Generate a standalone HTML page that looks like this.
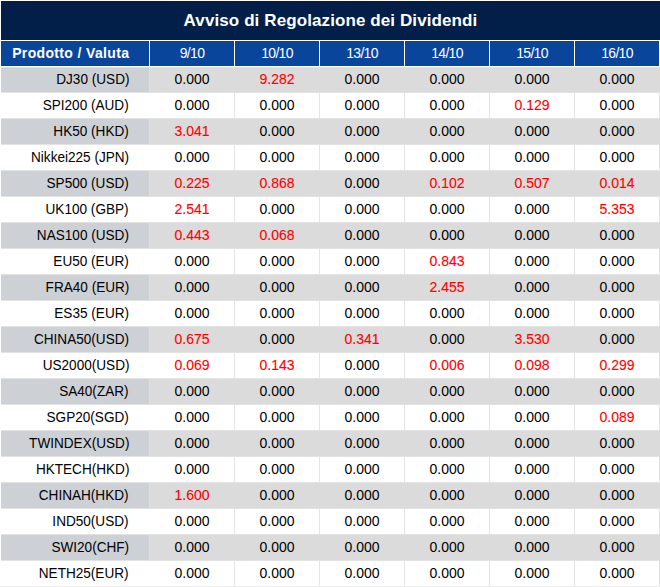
<!DOCTYPE html>
<html><head><meta charset="utf-8">
<style>
html,body{margin:0;padding:0;}
body{width:660px;height:587px;position:relative;overflow:hidden;background:#fff;font-family:"Liberation Sans",sans-serif;}
.b{position:absolute;}
.t{position:absolute;white-space:nowrap;}
.title{left:1px;top:1px;width:659px;text-align:center;line-height:39px;color:#fff;font-weight:bold;font-size:17px;letter-spacing:0.1px;}
.dt{color:#fff;font-size:14px;letter-spacing:-0.7px;line-height:25px;text-align:center;width:84px;top:41px;}
.d{font-size:14px;line-height:25px;text-align:center;color:#000;width:84px;}
.r{color:#ff0000;-webkit-text-stroke:0.12px #ff0000;}
.lab{font-size:14px;line-height:25px;color:#000;right:531px;transform:scaleX(0.97);transform-origin:100% 50%;}
</style></head><body>

<div class="b" style="left:1px;top:1px;width:659px;height:39px;background:#011f48;"></div>
<div class="b" style="left:1px;top:41px;width:148px;height:25px;background:#08459b;"></div>
<div class="b" style="left:150px;top:41px;width:84px;height:25px;background:#08459b;"></div>
<div class="b" style="left:235px;top:41px;width:84px;height:25px;background:#08459b;"></div>
<div class="b" style="left:320px;top:41px;width:84px;height:25px;background:#08459b;"></div>
<div class="b" style="left:405px;top:41px;width:84px;height:25px;background:#08459b;"></div>
<div class="b" style="left:490px;top:41px;width:84px;height:25px;background:#08459b;"></div>
<div class="b" style="left:575px;top:41px;width:84px;height:25px;background:#08459b;"></div>
<div class="b" style="left:234px;top:67px;width:1px;height:519px;background:#e4e4e4;"></div>
<div class="b" style="left:319px;top:67px;width:1px;height:519px;background:#e4e4e4;"></div>
<div class="b" style="left:404px;top:67px;width:1px;height:519px;background:#e4e4e4;"></div>
<div class="b" style="left:489px;top:67px;width:1px;height:519px;background:#e4e4e4;"></div>
<div class="b" style="left:574px;top:67px;width:1px;height:519px;background:#e4e4e4;"></div>
<div class="b" style="left:659px;top:67px;width:1px;height:519px;background:#e4e4e4;"></div>
<div class="b" style="left:0px;top:586px;width:660px;height:1px;background:#ececec;"></div>
<div class="b" style="left:1px;top:67px;width:148px;height:26px;background:#cdd0d5;"></div>
<div class="b" style="left:149px;top:67px;width:1px;height:26px;background:#dedede;"></div>
<div class="b" style="left:150px;top:67px;width:510px;height:26px;background:#dbdbdb;"></div>
<div class="b" style="left:1px;top:67px;width:659px;height:1px;background:#e3e3e3;"></div>
<div class="b" style="left:1px;top:92px;width:659px;height:1px;background:#e3e3e3;"></div>
<div class="b" style="left:1px;top:118px;width:148px;height:27px;background:#cdd0d5;"></div>
<div class="b" style="left:149px;top:118px;width:1px;height:27px;background:#dedede;"></div>
<div class="b" style="left:150px;top:118px;width:510px;height:27px;background:#dbdbdb;"></div>
<div class="b" style="left:1px;top:118px;width:659px;height:1px;background:#e3e3e3;"></div>
<div class="b" style="left:1px;top:144px;width:659px;height:1px;background:#e3e3e3;"></div>
<div class="b" style="left:1px;top:170px;width:148px;height:27px;background:#cdd0d5;"></div>
<div class="b" style="left:149px;top:170px;width:1px;height:27px;background:#dedede;"></div>
<div class="b" style="left:150px;top:170px;width:510px;height:27px;background:#dbdbdb;"></div>
<div class="b" style="left:1px;top:170px;width:659px;height:1px;background:#e3e3e3;"></div>
<div class="b" style="left:1px;top:196px;width:659px;height:1px;background:#e3e3e3;"></div>
<div class="b" style="left:1px;top:222px;width:148px;height:27px;background:#cdd0d5;"></div>
<div class="b" style="left:149px;top:222px;width:1px;height:27px;background:#dedede;"></div>
<div class="b" style="left:150px;top:222px;width:510px;height:27px;background:#dbdbdb;"></div>
<div class="b" style="left:1px;top:222px;width:659px;height:1px;background:#e3e3e3;"></div>
<div class="b" style="left:1px;top:248px;width:659px;height:1px;background:#e3e3e3;"></div>
<div class="b" style="left:1px;top:274px;width:148px;height:27px;background:#cdd0d5;"></div>
<div class="b" style="left:149px;top:274px;width:1px;height:27px;background:#dedede;"></div>
<div class="b" style="left:150px;top:274px;width:510px;height:27px;background:#dbdbdb;"></div>
<div class="b" style="left:1px;top:274px;width:659px;height:1px;background:#e3e3e3;"></div>
<div class="b" style="left:1px;top:300px;width:659px;height:1px;background:#e3e3e3;"></div>
<div class="b" style="left:1px;top:326px;width:148px;height:27px;background:#cdd0d5;"></div>
<div class="b" style="left:149px;top:326px;width:1px;height:27px;background:#dedede;"></div>
<div class="b" style="left:150px;top:326px;width:510px;height:27px;background:#dbdbdb;"></div>
<div class="b" style="left:1px;top:326px;width:659px;height:1px;background:#e3e3e3;"></div>
<div class="b" style="left:1px;top:352px;width:659px;height:1px;background:#e3e3e3;"></div>
<div class="b" style="left:1px;top:378px;width:148px;height:27px;background:#cdd0d5;"></div>
<div class="b" style="left:149px;top:378px;width:1px;height:27px;background:#dedede;"></div>
<div class="b" style="left:150px;top:378px;width:510px;height:27px;background:#dbdbdb;"></div>
<div class="b" style="left:1px;top:378px;width:659px;height:1px;background:#e3e3e3;"></div>
<div class="b" style="left:1px;top:404px;width:659px;height:1px;background:#e3e3e3;"></div>
<div class="b" style="left:1px;top:430px;width:148px;height:27px;background:#cdd0d5;"></div>
<div class="b" style="left:149px;top:430px;width:1px;height:27px;background:#dedede;"></div>
<div class="b" style="left:150px;top:430px;width:510px;height:27px;background:#dbdbdb;"></div>
<div class="b" style="left:1px;top:430px;width:659px;height:1px;background:#e3e3e3;"></div>
<div class="b" style="left:1px;top:456px;width:659px;height:1px;background:#e3e3e3;"></div>
<div class="b" style="left:1px;top:482px;width:148px;height:27px;background:#cdd0d5;"></div>
<div class="b" style="left:149px;top:482px;width:1px;height:27px;background:#dedede;"></div>
<div class="b" style="left:150px;top:482px;width:510px;height:27px;background:#dbdbdb;"></div>
<div class="b" style="left:1px;top:482px;width:659px;height:1px;background:#e3e3e3;"></div>
<div class="b" style="left:1px;top:508px;width:659px;height:1px;background:#e3e3e3;"></div>
<div class="b" style="left:1px;top:534px;width:148px;height:27px;background:#cdd0d5;"></div>
<div class="b" style="left:149px;top:534px;width:1px;height:27px;background:#dedede;"></div>
<div class="b" style="left:150px;top:534px;width:510px;height:27px;background:#dbdbdb;"></div>
<div class="b" style="left:1px;top:534px;width:659px;height:1px;background:#e3e3e3;"></div>
<div class="b" style="left:1px;top:560px;width:659px;height:1px;background:#e3e3e3;"></div>
<div class="t title">Avviso di Regolazione dei Dividendi</div>
<div class="t" style="right:531px;top:41px;line-height:25px;font-size:14px;font-weight:bold;color:#fff;letter-spacing:0.35px;">Prodotto / Valut<span style="letter-spacing:0">a</span></div>
<div class="t dt" style="left:150px;">9/10</div>
<div class="t dt" style="left:235px;">10/10</div>
<div class="t dt" style="left:320px;">13/10</div>
<div class="t dt" style="left:405px;">14/10</div>
<div class="t dt" style="left:490px;">15/10</div>
<div class="t dt" style="left:575px;">16/10</div>
<div class="t lab" style="top:67px;">DJ30 (USD)</div>
<div class="t d" style="left:150px;top:67px;">0.000</div>
<div class="t d r" style="left:235px;top:67px;">9.282</div>
<div class="t d" style="left:320px;top:67px;">0.000</div>
<div class="t d" style="left:405px;top:67px;">0.000</div>
<div class="t d" style="left:490px;top:67px;">0.000</div>
<div class="t d" style="left:575px;top:67px;">0.000</div>
<div class="t lab" style="top:93px;">SPI200 (AUD)</div>
<div class="t d" style="left:150px;top:93px;">0.000</div>
<div class="t d" style="left:235px;top:93px;">0.000</div>
<div class="t d" style="left:320px;top:93px;">0.000</div>
<div class="t d" style="left:405px;top:93px;">0.000</div>
<div class="t d r" style="left:490px;top:93px;">0.129</div>
<div class="t d" style="left:575px;top:93px;">0.000</div>
<div class="t lab" style="top:119px;">HK50 (HKD)</div>
<div class="t d r" style="left:150px;top:119px;">3.041</div>
<div class="t d" style="left:235px;top:119px;">0.000</div>
<div class="t d" style="left:320px;top:119px;">0.000</div>
<div class="t d" style="left:405px;top:119px;">0.000</div>
<div class="t d" style="left:490px;top:119px;">0.000</div>
<div class="t d" style="left:575px;top:119px;">0.000</div>
<div class="t lab" style="top:145px;">Nikkei225 (JPN)</div>
<div class="t d" style="left:150px;top:145px;">0.000</div>
<div class="t d" style="left:235px;top:145px;">0.000</div>
<div class="t d" style="left:320px;top:145px;">0.000</div>
<div class="t d" style="left:405px;top:145px;">0.000</div>
<div class="t d" style="left:490px;top:145px;">0.000</div>
<div class="t d" style="left:575px;top:145px;">0.000</div>
<div class="t lab" style="top:171px;">SP500 (USD)</div>
<div class="t d r" style="left:150px;top:171px;">0.225</div>
<div class="t d r" style="left:235px;top:171px;">0.868</div>
<div class="t d" style="left:320px;top:171px;">0.000</div>
<div class="t d r" style="left:405px;top:171px;">0.102</div>
<div class="t d r" style="left:490px;top:171px;">0.507</div>
<div class="t d r" style="left:575px;top:171px;">0.014</div>
<div class="t lab" style="top:197px;">UK100 (GBP)</div>
<div class="t d r" style="left:150px;top:197px;">2.541</div>
<div class="t d" style="left:235px;top:197px;">0.000</div>
<div class="t d" style="left:320px;top:197px;">0.000</div>
<div class="t d" style="left:405px;top:197px;">0.000</div>
<div class="t d" style="left:490px;top:197px;">0.000</div>
<div class="t d r" style="left:575px;top:197px;">5.353</div>
<div class="t lab" style="top:223px;">NAS100 (USD)</div>
<div class="t d r" style="left:150px;top:223px;">0.443</div>
<div class="t d r" style="left:235px;top:223px;">0.068</div>
<div class="t d" style="left:320px;top:223px;">0.000</div>
<div class="t d" style="left:405px;top:223px;">0.000</div>
<div class="t d" style="left:490px;top:223px;">0.000</div>
<div class="t d" style="left:575px;top:223px;">0.000</div>
<div class="t lab" style="top:249px;">EU50 (EUR)</div>
<div class="t d" style="left:150px;top:249px;">0.000</div>
<div class="t d" style="left:235px;top:249px;">0.000</div>
<div class="t d" style="left:320px;top:249px;">0.000</div>
<div class="t d r" style="left:405px;top:249px;">0.843</div>
<div class="t d" style="left:490px;top:249px;">0.000</div>
<div class="t d" style="left:575px;top:249px;">0.000</div>
<div class="t lab" style="top:275px;">FRA40 (EUR)</div>
<div class="t d" style="left:150px;top:275px;">0.000</div>
<div class="t d" style="left:235px;top:275px;">0.000</div>
<div class="t d" style="left:320px;top:275px;">0.000</div>
<div class="t d r" style="left:405px;top:275px;">2.455</div>
<div class="t d" style="left:490px;top:275px;">0.000</div>
<div class="t d" style="left:575px;top:275px;">0.000</div>
<div class="t lab" style="top:301px;">ES35 (EUR)</div>
<div class="t d" style="left:150px;top:301px;">0.000</div>
<div class="t d" style="left:235px;top:301px;">0.000</div>
<div class="t d" style="left:320px;top:301px;">0.000</div>
<div class="t d" style="left:405px;top:301px;">0.000</div>
<div class="t d" style="left:490px;top:301px;">0.000</div>
<div class="t d" style="left:575px;top:301px;">0.000</div>
<div class="t lab" style="top:327px;">CHINA50(USD)</div>
<div class="t d r" style="left:150px;top:327px;">0.675</div>
<div class="t d" style="left:235px;top:327px;">0.000</div>
<div class="t d r" style="left:320px;top:327px;">0.341</div>
<div class="t d" style="left:405px;top:327px;">0.000</div>
<div class="t d r" style="left:490px;top:327px;">3.530</div>
<div class="t d" style="left:575px;top:327px;">0.000</div>
<div class="t lab" style="top:353px;">US2000(USD)</div>
<div class="t d r" style="left:150px;top:353px;">0.069</div>
<div class="t d r" style="left:235px;top:353px;">0.143</div>
<div class="t d" style="left:320px;top:353px;">0.000</div>
<div class="t d r" style="left:405px;top:353px;">0.006</div>
<div class="t d r" style="left:490px;top:353px;">0.098</div>
<div class="t d r" style="left:575px;top:353px;">0.299</div>
<div class="t lab" style="top:379px;">SA40(ZAR)</div>
<div class="t d" style="left:150px;top:379px;">0.000</div>
<div class="t d" style="left:235px;top:379px;">0.000</div>
<div class="t d" style="left:320px;top:379px;">0.000</div>
<div class="t d" style="left:405px;top:379px;">0.000</div>
<div class="t d" style="left:490px;top:379px;">0.000</div>
<div class="t d" style="left:575px;top:379px;">0.000</div>
<div class="t lab" style="top:405px;">SGP20(SGD)</div>
<div class="t d" style="left:150px;top:405px;">0.000</div>
<div class="t d" style="left:235px;top:405px;">0.000</div>
<div class="t d" style="left:320px;top:405px;">0.000</div>
<div class="t d" style="left:405px;top:405px;">0.000</div>
<div class="t d" style="left:490px;top:405px;">0.000</div>
<div class="t d r" style="left:575px;top:405px;">0.089</div>
<div class="t lab" style="top:431px;">TWINDEX(USD)</div>
<div class="t d" style="left:150px;top:431px;">0.000</div>
<div class="t d" style="left:235px;top:431px;">0.000</div>
<div class="t d" style="left:320px;top:431px;">0.000</div>
<div class="t d" style="left:405px;top:431px;">0.000</div>
<div class="t d" style="left:490px;top:431px;">0.000</div>
<div class="t d" style="left:575px;top:431px;">0.000</div>
<div class="t lab" style="top:457px;">HKTECH(HKD)</div>
<div class="t d" style="left:150px;top:457px;">0.000</div>
<div class="t d" style="left:235px;top:457px;">0.000</div>
<div class="t d" style="left:320px;top:457px;">0.000</div>
<div class="t d" style="left:405px;top:457px;">0.000</div>
<div class="t d" style="left:490px;top:457px;">0.000</div>
<div class="t d" style="left:575px;top:457px;">0.000</div>
<div class="t lab" style="top:483px;">CHINAH(HKD)</div>
<div class="t d r" style="left:150px;top:483px;">1.600</div>
<div class="t d" style="left:235px;top:483px;">0.000</div>
<div class="t d" style="left:320px;top:483px;">0.000</div>
<div class="t d" style="left:405px;top:483px;">0.000</div>
<div class="t d" style="left:490px;top:483px;">0.000</div>
<div class="t d" style="left:575px;top:483px;">0.000</div>
<div class="t lab" style="top:509px;">IND50(USD)</div>
<div class="t d" style="left:150px;top:509px;">0.000</div>
<div class="t d" style="left:235px;top:509px;">0.000</div>
<div class="t d" style="left:320px;top:509px;">0.000</div>
<div class="t d" style="left:405px;top:509px;">0.000</div>
<div class="t d" style="left:490px;top:509px;">0.000</div>
<div class="t d" style="left:575px;top:509px;">0.000</div>
<div class="t lab" style="top:535px;">SWI20(CHF)</div>
<div class="t d" style="left:150px;top:535px;">0.000</div>
<div class="t d" style="left:235px;top:535px;">0.000</div>
<div class="t d" style="left:320px;top:535px;">0.000</div>
<div class="t d" style="left:405px;top:535px;">0.000</div>
<div class="t d" style="left:490px;top:535px;">0.000</div>
<div class="t d" style="left:575px;top:535px;">0.000</div>
<div class="t lab" style="top:561px;">NETH25(EUR)</div>
<div class="t d" style="left:150px;top:561px;">0.000</div>
<div class="t d" style="left:235px;top:561px;">0.000</div>
<div class="t d" style="left:320px;top:561px;">0.000</div>
<div class="t d" style="left:405px;top:561px;">0.000</div>
<div class="t d" style="left:490px;top:561px;">0.000</div>
<div class="t d" style="left:575px;top:561px;">0.000</div>
</body></html>
